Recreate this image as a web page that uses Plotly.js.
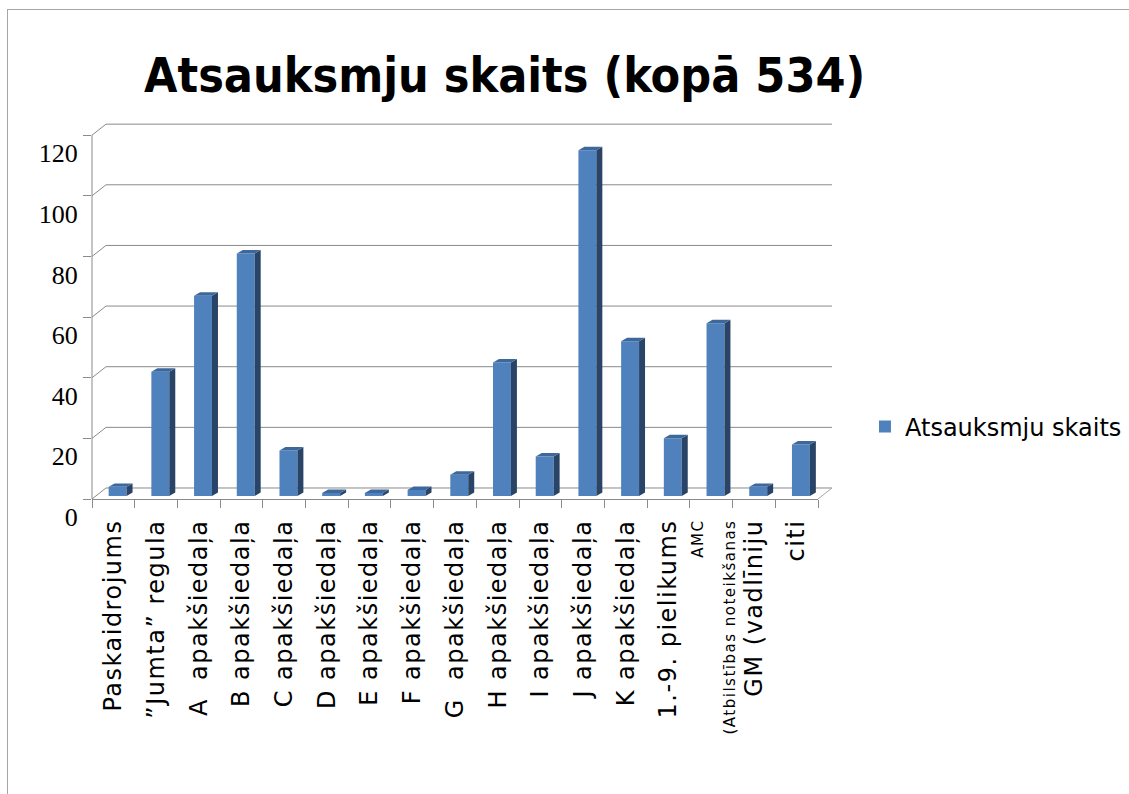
<!DOCTYPE html>
<html>
<head>
<meta charset="utf-8">
<script src="https://cdn.plot.ly/plotly-3.0.1.min.js"></script>
<style>
  html, body { margin: 0; padding: 0; background: #fff; overflow: hidden; }
  #wrap { position: relative; width: 1129px; height: 794px; }
  #chart { position: absolute; left: 0; top: 0; width: 1129px; height: 794px; }
  #frame { position: absolute; left: 7px; top: 9px; width: 1300px; height: 1000px;
           border: 1px solid #a6a6a6; pointer-events: none; }
  #chart .xtick text { letter-spacing: 1.5px; }
</style>
</head>
<body>
<div id="wrap">
  <div id="chart"></div>
  <div id="frame"></div>
</div>
<script>
// ---- data ----
const categories = [
  "Paskaidrojums", "”Jumta” regula", "A apakšiedaļa", "B apakšiedaļa",
  "C apakšiedaļa", "D apakšiedaļa", "E apakšiedaļa", "F apakšiedaļa",
  "G apakšiedaļa", "H apakšiedaļa", "I apakšiedaļa", "J apakšiedaļa",
  "K apakšiedaļa", "1.-9. pielikums", "AMC (Atbilstības noteikšanas",
  "GM (vadlīniju", "citi"
];
const tickLabels = [
  "Paskaidrojums", "”Jumta” regula", "A\u00a0 apakšiedaļa", "B apakšiedaļa",
  "C apakšiedaļa", "D apakšiedaļa", "E apakšiedaļa", "F apakšiedaļa",
  "G\u00a0 apakšiedaļa", "H apakšiedaļa", "I apakšiedaļa", "J apakšiedaļa",
  "K apakšiedaļa", "1.-9. pielikums",
  '<span style="font-size:15px">AMC</span><br><span style="font-size:15px">(Atbilstības noteikšanas</span>',
  "GM (vadlīniju", "citi"
];
const values = [3, 41, 66, 80, 15, 1, 1, 2, 7, 44, 13, 114, 51, 19, 57, 3, 17];
const seriesName = "Atsauksmju skaits";
const yTicks = [0, 20, 40, 60, 80, 100, 120];
const chartTitle = "Atsauksmju skaits (kopā 534)";

// ---- styling / geometry ----
const frontColor = "#4f81bd";
const sideColor = "#2a4468";
const topColor = "#3d689c";
const gridColor = "#8a8a8a";
const barW = 0.42, barShift = 0.1;     // category units
const depthX = 0.14, depthY = 1.15;    // bar 3D depth (cat units, value units)
const wallX = 0.0193, wallY = 3.63;    // back-wall offset (paper x, value units)
const frontDrop = 1;                   // front plane sits 1 value unit below the bar plane

const shapes = [];
// back wall gridlines + side diagonals
yTicks.forEach(v => {
  const f = v - frontDrop;
  shapes.push({type: "line", xref: "paper", yref: "y", layer: "below",
    x0: wallX, x1: 1 + wallX, y0: f + wallY, y1: f + wallY,
    line: {color: gridColor, width: 1}});
  shapes.push({type: "line", xref: "paper", yref: "y", layer: "below",
    x0: 0, x1: wallX, y0: f, y1: f + wallY,
    line: {color: gridColor, width: 1}});
});
// floor right edge
shapes.push({type: "line", xref: "paper", yref: "y", layer: "below",
  x0: 1, x1: 1 + wallX, y0: -frontDrop, y1: -frontDrop + wallY, line: {color: "#a6a6a6", width: 1}});
// front value axis line
shapes.push({type: "line", xref: "paper", yref: "y", layer: "below",
  x0: 0, x1: 0, y0: -frontDrop, y1: yTicks[yTicks.length - 1] - frontDrop,
  line: {color: gridColor, width: 1}});

// 3D side and top faces of the bars, from the data
values.forEach((v, i) => {
  const x0 = i + barShift - barW / 2, x1 = i + barShift + barW / 2;
  shapes.push({type: "path", xref: "x", yref: "y", layer: "above",
    path: `M${x1},0 L${x1 + depthX},${depthY} L${x1 + depthX},${v + depthY} L${x1},${v} Z`,
    fillcolor: sideColor, line: {width: 0}});
  shapes.push({type: "path", xref: "x", yref: "y", layer: "above",
    path: `M${x0},${v} L${x1},${v} L${x1 + depthX},${v + depthY} L${x0 + depthX},${v + depthY} Z`,
    fillcolor: topColor, line: {width: 0}});
});

const trace = {
  type: "bar",
  x: categories,
  y: values,
  name: seriesName,
  width: barW,
  offset: -barW / 2 + barShift,
  marker: {color: frontColor, line: {width: 0}},
  showlegend: true,
  hoverinfo: "x+y"
};

const layout = {
  width: 1129, height: 794,
  paper_bgcolor: "#ffffff", plot_bgcolor: "rgba(0,0,0,0)",
  margin: {l: 92, r: 311, t: 120, b: 295, pad: 0, autoexpand: false},
  title: {
    text: chartTitle,
    font: {family: "DejaVu Sans Condensed, DejaVu Sans, sans-serif", size: 48, color: "#000", weight: "bold"},
    x: 0.447, xref: "container", xanchor: "center",
    y: 0.905, yref: "container", yanchor: "middle"
  },
  xaxis: {
    type: "category",
    range: [-0.5, categories.length - 0.5],
    tickvals: categories,
    ticktext: tickLabels,
    tickangle: -90,
    tickson: "boundaries",
    ticks: "outside", ticklen: 8, tickcolor: gridColor, tickwidth: 1,
    ticklabelstandoff: 10,
    showline: true, linecolor: gridColor, linewidth: 1,
    showgrid: false, zeroline: false,
    tickfont: {family: "DejaVu Sans, Verdana, sans-serif", size: 24, color: "#000"},
    automargin: false,
    fixedrange: true
  },
  yaxis: {
    range: [-frontDrop, 124],
    tickvals: yTicks.map(v => v - frontDrop),
    ticktext: yTicks.map(String),
    ticks: "outside", ticklen: 8, tickcolor: gridColor, tickwidth: 1,
    showline: false, showgrid: false, zeroline: false,
    tickfont: {family: "Liberation Serif, Times New Roman, serif", size: 26, color: "#000"},
    ticklabelshift: 18,
    automargin: false,
    fixedrange: true
  },
  legend: {
    x: 1.0647, xref: "paper", xanchor: "left",
    y: 0.19, yanchor: "middle",
    font: {family: "DejaVu Sans, Verdana, sans-serif", size: 24, color: "#000"},
    bgcolor: "rgba(0,0,0,0)", borderwidth: 0
  },
  shapes: shapes,
  bargap: 0.5
};

Plotly.newPlot("chart", [trace], layout, {displayModeBar: false, responsive: false});
</script>
</body>
</html>
